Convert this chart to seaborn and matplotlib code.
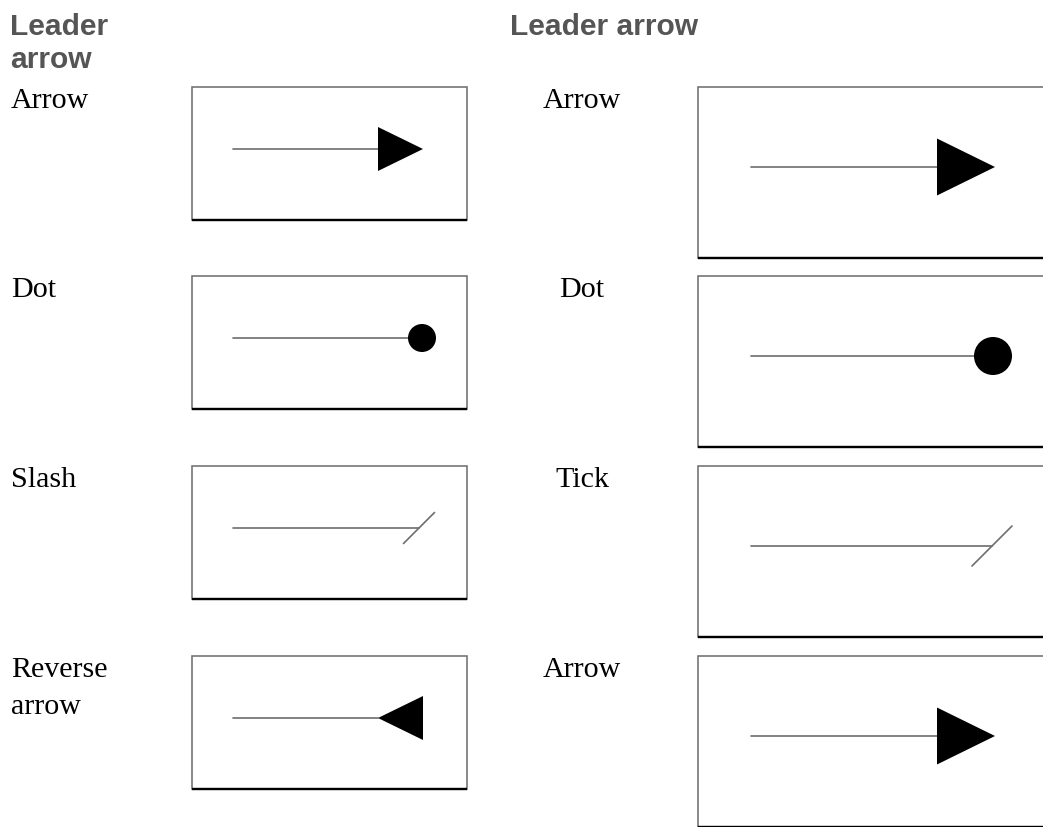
import matplotlib
matplotlib.use("Agg")
import matplotlib.pyplot as plt
import seaborn as sns
import pandas as pd
from matplotlib.patches import Rectangle, Circle, Polygon

# -----------------------------
# Content
# -----------------------------
headers = ["Leader\narrow", "Leader arrow"]
left_labels = ["Arrow", "Dot", "Slash", "Reverse\narrow"]
left_heads = ["arrow", "dot", "slash", "reverse"]
right_labels = ["Arrow", "Dot", "Tick", "Arrow"]
right_heads = ["arrow", "dot", "slash", "arrow"]
row_tops = [87, 276, 466, 656]

# layout per column (pixel units)
left_col = dict(head_x=10, label_x=11, label_ha="left",
                box_x=192, box_w=275, box_h=133, line_dy=62, line_x0=233,
                tri_x0=378, tri_w=45, tri_h=44, dot_cx=422, dot_r=14,
                slash_cx=419, slash_half=15.5)
right_col = dict(head_x=510, label_x=582, label_ha="center",
                 box_x=698, box_w=400, box_h=171, line_dy=80, line_x0=751,
                 tri_x0=937, tri_w=58, tri_h=57, dot_cx=993, dot_r=19,
                 slash_cx=992, slash_half=20)

sns.set_theme(style="white")
plt.rcParams["font.family"] = ["Liberation Serif", "DejaVu Serif"]

W, H = 1043, 827
fig = plt.figure(figsize=(W / 100, H / 100), dpi=100)
ax = fig.add_axes([0, 0, 1, 1])
ax.set_xlim(0, W)
ax.set_ylim(H, 0)
ax.axis("off")

px = 0.72  # pixel -> point
gray = "#707070"


def draw_column(col, header, labels, heads):
    # header
    for i, line in enumerate(header.split("\n")):
        ax.text(col["head_x"], 35 + i * 33, line, fontsize=30 * px,
                fontweight="bold", color="#555555", va="baseline",
                ha="left", family=["Liberation Sans", "DejaVu Sans"])

    segs = []
    for r, (top, lab, head) in enumerate(zip(row_tops, labels, heads)):
        # row label
        for i, line in enumerate(lab.split("\n")):
            ax.text(col["label_x"], top + 21 + i * 37, line, fontsize=30 * px,
                    color="black", va="baseline", ha=col["label_ha"])

        # box
        ax.add_patch(Rectangle((col["box_x"], top), col["box_w"], col["box_h"],
                               facecolor="white", edgecolor=gray,
                               lw=1.6 * px, zorder=1))
        ax.plot([col["box_x"], col["box_x"] + col["box_w"]],
                [top + col["box_h"], top + col["box_h"]],
                color="black", lw=2.4 * px, zorder=2, solid_capstyle="butt")

        y = top + col["line_dy"]
        x0 = col["tri_x0"]
        x1 = x0 + col["tri_w"]
        hh = col["tri_h"] / 2
        if head == "arrow":
            end = x0
            ax.add_patch(Polygon([(x0, y - hh), (x1, y), (x0, y + hh)],
                                 closed=True, color="black", lw=0, zorder=4))
        elif head == "reverse":
            end = x0
            ax.add_patch(Polygon([(x1, y - hh), (x0, y), (x1, y + hh)],
                                 closed=True, color="black", lw=0, zorder=4))
        elif head == "dot":
            end = col["dot_cx"]
            ax.add_patch(Circle((col["dot_cx"], y), col["dot_r"],
                                color="black", lw=0, zorder=4))
        else:
            end = col["slash_cx"]
            s = col["slash_half"]
            segs.append((f"s{r}", end - s, y + s))
            segs.append((f"s{r}", end + s, y - s))
        segs.append((f"l{r}", col["line_x0"], y))
        segs.append((f"l{r}", end, y))

    df = pd.DataFrame(segs, columns=["seg", "x", "y"])
    sns.lineplot(data=df, x="x", y="y", units="seg", estimator=None,
                 sort=False, color=gray, lw=1.7 * px, ax=ax, zorder=3)


draw_column(left_col, headers[0], left_labels, left_heads)
draw_column(right_col, headers[1], right_labels, right_heads)

ax.set_xlim(0, W)
ax.set_ylim(H, 0)
ax.axis("off")

fig.savefig("out.png", dpi=100)
